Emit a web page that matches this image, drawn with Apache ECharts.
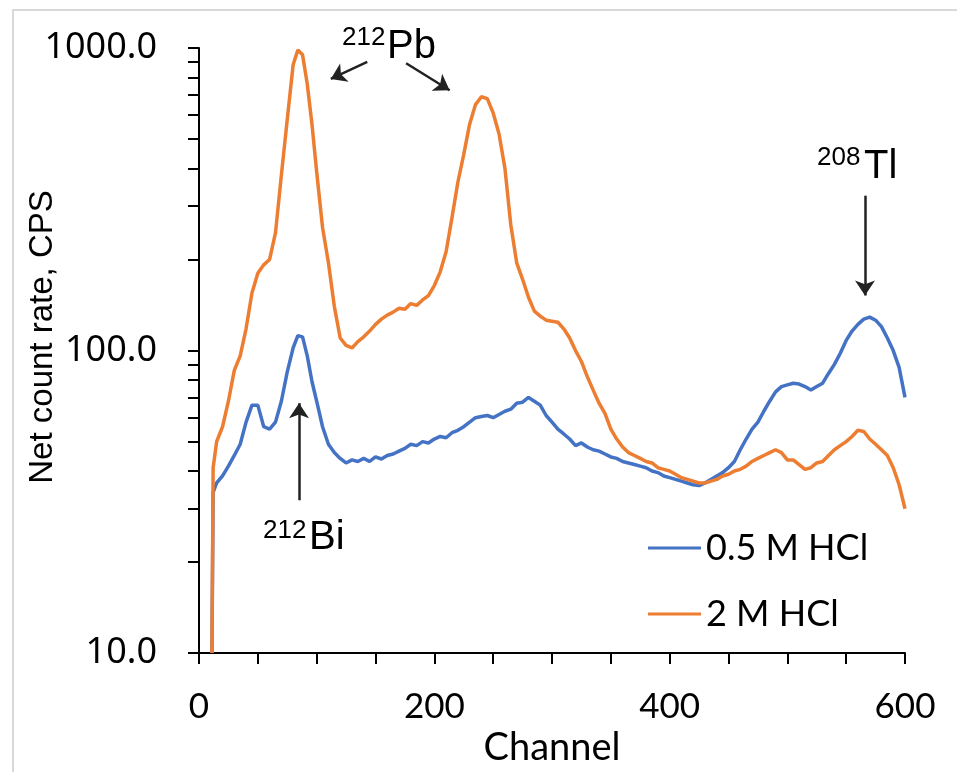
<!DOCTYPE html>
<html>
<head>
<meta charset="utf-8">
<script src="https://cdn.jsdelivr.net/npm/echarts@6/dist/echarts.min.js"></script>
<style>
  html, body { margin: 0; padding: 0; background: #fff; }
  #chart { width: 957px; height: 772px; }
</style>
</head>
<body>
<div id="chart"></div>
<script>
// Gamma spectrum channels (shared by both series)
const channels = [
  11, 12, 15, 20, 25, 30, 35, 40, 45, 50,
  55, 60, 65, 70, 75, 80, 84, 88, 92, 96,
  100, 105, 110, 115, 120, 125, 130, 135, 140, 145,
  150, 155, 160, 165, 170, 175, 180, 185, 190, 195,
  200, 205, 210, 215, 220, 225, 230, 235, 240, 245,
  250, 255, 260, 265, 270, 275, 280, 285, 290, 295,
  300, 305, 310, 315, 320, 325, 330, 335, 340, 345,
  350, 355, 360, 365, 370, 375, 380, 385, 390, 395,
  400, 405, 410, 415, 420, 425, 430, 435, 440, 445,
  450, 455, 460, 465, 470, 475, 480, 485, 490, 495,
  500, 505, 510, 515, 520, 525, 530, 535, 540, 545,
  550, 555, 560, 565, 570, 575, 580, 585, 590, 595,
  600
];

// Net count rate (CPS), 0.5 M HCl eluate
const cps05M = [
  10, 34, 36.5, 38.5, 41.5, 45, 49, 58, 66, 66,
  56, 55, 58, 68, 85, 102, 112, 111, 96, 79,
  68, 56, 49, 46, 44, 42.5, 43.5, 43, 44, 43,
  44.5, 43.8, 45, 45.5, 46.5, 47.5, 49, 48.5, 50, 49.5,
  51, 52, 51.5, 53.5, 54.5, 56, 58, 60, 60.5, 61,
  60, 61.5, 63, 64, 67, 67.5, 70, 68, 66, 61,
  58, 55, 53, 51, 48.5, 49.5, 48, 47, 46.5, 45.5,
  44.5, 44, 43, 42.5, 42, 41.5, 41, 40, 39.5, 38.5,
  38, 37.5, 37, 36.5, 36, 35.8, 36.5, 37.5, 38.5, 39.5,
  41, 43, 47, 51, 55, 58, 63, 68, 73, 76,
  77, 78, 77.5, 76, 74, 76, 78, 84, 90, 98,
  108, 116, 122, 127, 129, 126, 120, 110, 100, 88,
  70
];

// Net count rate (CPS), 2 M HCl eluate
const cps2M = [
  10, 41, 50, 56, 68, 86, 96, 118, 155, 180,
  192, 200, 245, 380, 580, 880, 985, 950, 760, 560,
  390, 255, 195, 140, 110, 104, 102, 107, 111, 116,
  122, 127, 131, 134, 138, 137, 143, 141, 147, 152,
  164, 182, 212, 275, 360, 445, 560, 650, 690, 680,
  610, 520, 400, 260, 195, 172, 150, 135, 130, 126,
  125, 124, 118, 110, 100, 92, 82, 74, 67, 62,
  55, 51, 48, 46, 45, 44, 43, 42.5, 41, 40.5,
  40, 39, 38, 37.5, 37, 36.5, 36.5, 37, 37.5, 38.5,
  39, 40, 40.5, 41.5, 43, 44, 45, 46, 47, 46,
  43.5, 43.5, 42, 40.5, 41, 42.5, 43, 45, 47, 48.5,
  50, 52, 54.5, 54, 51, 49, 47, 45, 41, 36,
  30
];

const seriesNames = ['0.5 M HCl', '2 M HCl'];
const yLabelValues = [10, 100, 1000];
const yTickValues = [10, 20, 30, 40, 50, 60, 70, 80, 90,
                     100, 200, 300, 400, 500, 600, 700, 800, 900, 1000];

// Peak arrows in data space: [channel, cps] start -> end
const arrowsPb = [
  [[143, 900], [112, 790]],
  [[176, 890], [213, 725]]
];
const arrowBi = [[85, 32], [85, 67]];
const arrowTl = [[566, 325], [566, 152]];

const BLUE = '#4472C4';
const ORANGE = '#ED7D31';
const INK = '#222';

const chart = echarts.init(document.getElementById('chart'));

function arrowLines(list) {
  return list.map(a => [{ coord: a[0] }, { coord: a[1] }]);
}

const markLineBase = {
  silent: true,
  animation: false,
  symbol: ['none', 'arrow'],
  symbolSize: 15,
  label: { show: false },
  lineStyle: { color: INK, width: 2.5, type: 'solid' },
  emphasis: { disabled: true }
};

const sup = (text, x, y) => ({
  type: 'text', x: x, y: y, silent: true,
  style: { text: text, font: '26px "Liberation Sans"', fill: '#000', align: 'left', verticalAlign: 'middle' }
});
const big = (text, x, y) => ({
  type: 'text', x: x, y: y, silent: true,
  style: { text: text, font: '40px "Liberation Sans"', fill: '#000', align: 'left', verticalAlign: 'middle' }
});

chart.setOption({
  animation: false,
  grid: { left: 199, right: 52, top: 48, bottom: 113 },
  xAxis: {
    type: 'value', min: 0, max: 600, interval: 50,
    axisLine: { show: true, lineStyle: { color: '#000', width: 2 } },
    axisTick: { show: true, length: 11, lineStyle: { color: '#000', width: 2 } },
    axisLabel: {
      margin: 36, fontFamily: 'Lato', fontSize: 35, color: '#000',
      formatter: v => (v % 200 === 0 ? String(v) : '')
    },
    splitLine: { show: false },
    name: 'Channel', nameLocation: 'middle', nameGap: 75,
    nameTextStyle: { fontFamily: 'Lato', fontSize: 38, color: '#000' }
  },
  yAxis: {
    type: 'log', logBase: 10, min: 10, max: 1000,
    axisLine: { show: true, lineStyle: { color: '#000', width: 2 } },
    axisTick: { show: true, length: 11, customValues: yTickValues, lineStyle: { color: '#000', width: 2 } },
    axisLabel: {
      customValues: yLabelValues, margin: 42,
      fontFamily: 'Noto Sans', fontSize: 36, color: '#000',
      formatter: v => Number(v).toFixed(1)
    },
    splitLine: { show: false }
  },
  legend: {
    orient: 'vertical', left: 643, top: 525,
    itemWidth: 53, itemHeight: 3, itemGap: 30, icon: 'rect',
    textStyle: { fontFamily: 'Lato', fontSize: 36, color: '#000' },
    data: seriesNames
  },
  series: [
    {
      name: seriesNames[0], type: 'line', symbol: 'none', showSymbol: false,
      data: channels.map((c, i) => [c, cps05M[i]]),
      lineStyle: { color: BLUE, width: 3.5 }, itemStyle: { color: BLUE },
      z: 2,
      markLine: Object.assign({}, markLineBase, { data: arrowLines([arrowBi, arrowTl]) })
    },
    {
      name: seriesNames[1], type: 'line', symbol: 'none', showSymbol: false,
      data: channels.map((c, i) => [c, cps2M[i]]),
      lineStyle: { color: ORANGE, width: 3.5 }, itemStyle: { color: ORANGE },
      z: 3,
      markLine: Object.assign({}, markLineBase, { data: arrowLines(arrowsPb) })
    }
  ],
  graphic: [
    {
      type: 'rect', silent: true, z: -10,
      shape: { x: 13, y: 10, width: 1000, height: 1000 },
      style: { fill: 'none', stroke: '#D9D9D9', lineWidth: 2 }
    },
    {
      type: 'text', x: 43, y: 337, rotation: Math.PI / 2, silent: true,
      style: { text: 'Net count rate, CPS', font: '33px "Liberation Sans"', fill: '#000', align: 'center', verticalAlign: 'middle' }
    },
    sup('212', 342, 38), big('Pb', 387, 47),
    sup('212', 263, 531), big('Bi', 309, 538),
    sup('208', 817, 158), big('Tl', 864, 167)
  ]
});
</script>
</body>
</html>
